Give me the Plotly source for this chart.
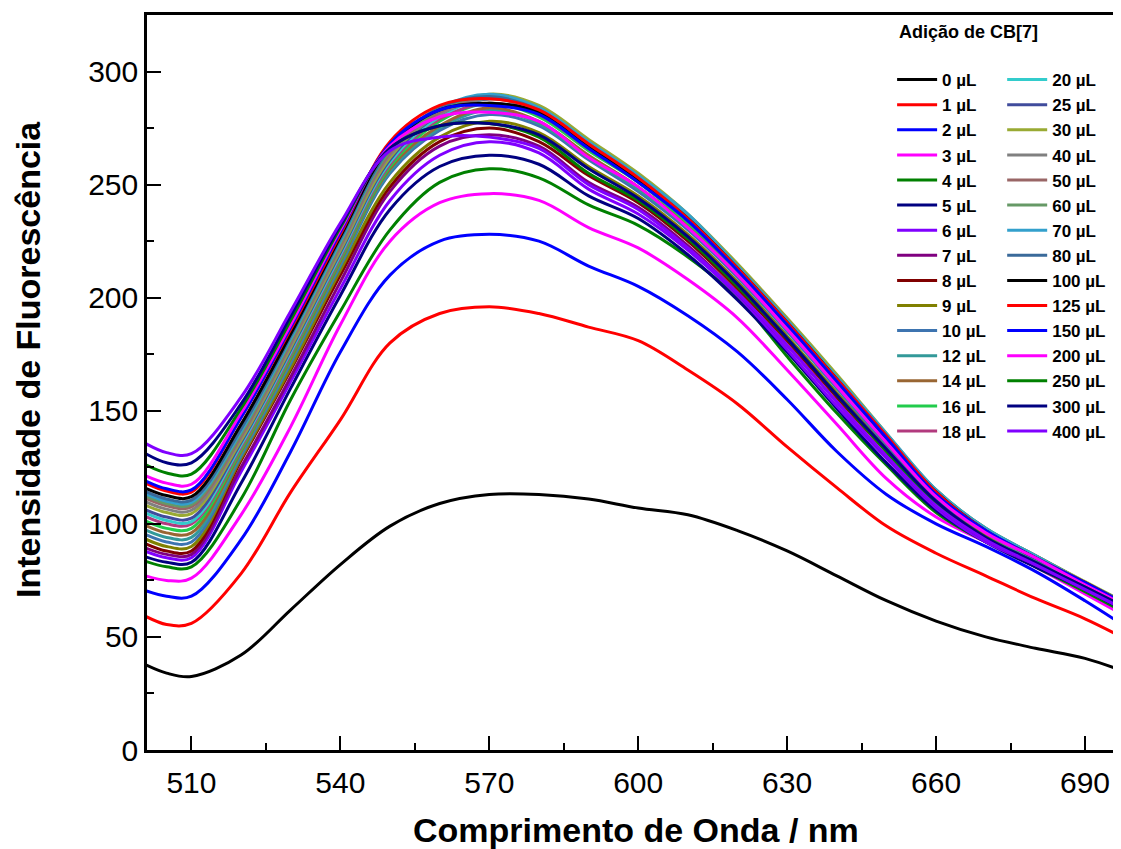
import plotly.graph_objects as go

# wavelength grid (nm)
wl = [500, 505, 510, 520, 530, 540, 550, 560, 570, 580, 590, 600,
      610, 620, 630, 640, 650, 660, 670, 680, 690, 700]

# fluorescence intensity per CB[7] addition
y_0 = [38.5, 34, 32.5, 42, 62, 82, 99, 109, 113, 113, 111, 107, 104, 97, 88, 77, 66, 57, 50, 45, 40.5, 33]
y_1 = [60, 55.5, 56, 78, 114, 146, 180, 193, 196, 193, 187, 181, 168, 153, 134, 116, 99, 87, 77, 67, 58, 47]
y_2 = [71, 68, 68, 93, 132, 176, 210, 225, 228, 225, 214, 205, 192, 176, 155, 132, 113, 100, 90, 79, 66, 52]
y_3 = [77.5, 75, 76, 104, 143, 188, 225, 242, 246, 243, 231, 222, 208, 191, 168, 144, 120, 103, 92, 81, 69, 57]
y_4 = [84, 81, 81, 111, 155, 194, 230, 251, 257, 253, 241, 232, 218, 200, 174, 149, 126, 105, 92, 81, 70, 58.5]
y_5 = [86, 83, 83, 118, 160, 201, 239, 258, 263, 259, 245, 235, 219, 199, 176, 151, 127, 106, 92, 81, 71, 59]
y_6 = [88.5, 85, 85, 123, 163, 204, 243, 263, 269, 264, 248, 237, 221, 201, 177, 152, 129, 107, 92, 82, 71, 60]
y_7 = [90, 86.5, 86.5, 125, 165, 207, 247, 267, 272, 267, 251, 240, 223, 202, 179, 154, 130, 108, 93, 82, 72, 60]
y_8 = [92, 88, 88, 128, 168, 210, 249, 269, 275, 269, 254, 242, 225, 204, 181, 156, 132, 109, 94, 83, 72, 61]
y_9 = [94, 90, 90, 129, 169, 212, 251, 271, 278, 273, 258, 245, 228, 207, 183, 158, 134, 110, 95, 84, 73, 61]
y_10 = [96, 92, 92, 130, 171, 214, 255, 274, 281, 276, 261, 247, 230, 209, 185, 160, 135, 111, 96, 84, 73, 61]
y_12 = [98, 94, 94, 131, 172, 215, 256, 275, 283, 277, 262, 248, 231, 210, 186, 161, 136, 112, 96, 84, 73, 62]
y_14 = [100, 96, 96, 132, 173, 216, 257, 276, 284, 278, 263, 249, 232, 210, 187, 162, 136, 112, 96, 85, 73, 62]
y_16 = [102, 98, 98, 133, 174, 217, 258, 278, 286, 280, 265, 251, 233, 212, 188, 163, 137, 113, 97, 85, 74, 62]
y_18 = [104, 100, 100, 134, 175, 218, 259, 279, 286, 281, 266, 252, 234, 212, 188, 163, 138, 113, 97, 85, 74, 62]
y_20 = [105.5, 101.5, 101, 135, 176, 219, 260, 280, 288, 283, 268, 253, 236, 213, 190, 164, 139, 114, 97, 85, 73, 62]
y_25 = [107, 103, 102.5, 136, 177, 220, 261, 281, 288, 284, 269, 254, 236, 214, 190, 165, 139, 114, 97, 85, 74, 62]
y_30 = [109, 105, 104.5, 137, 178, 221, 262, 282, 290, 285, 270, 255, 237, 215, 191, 166, 140, 115, 98, 86, 74.5, 63]
y_40 = [110.5, 106.5, 106, 138, 179, 222, 263, 281, 288, 282, 267, 252, 235, 213, 189, 164, 138, 114, 97, 85, 74, 62]
y_50 = [112, 108, 107.5, 139, 180, 223, 264, 282, 289, 283, 267, 253, 235, 214, 190, 164, 138, 114, 97, 86, 74, 62]
y_60 = [113, 109, 108.5, 140, 181, 224, 265, 283, 289, 284, 268, 254, 235, 214, 189, 165, 139, 115, 98, 86, 74, 62]
y_70 = [114, 110, 109.5, 141, 182, 225, 266, 284, 290, 284, 269, 254, 237, 214, 190, 165, 140, 115, 98, 86, 74, 63]
y_80 = [115, 111, 110.5, 142, 183, 226, 266, 284, 289, 283, 268, 253, 235, 213, 189, 164, 139, 114, 97, 85, 74, 63]
y_100 = [116.5, 112.5, 112, 144, 184, 227, 267, 283, 286, 282, 267, 252, 235, 213, 189, 164, 138, 114, 97, 85, 74, 62]
y_125 = [118.7, 114.5, 114, 147, 186, 228, 269, 285, 288, 283, 268, 253, 235, 213, 189, 164, 139, 114, 97, 85, 74, 62]
y_150 = [119.8, 115.5, 115, 147, 187, 229, 268, 283, 285, 281, 266, 251, 234, 212, 188, 163, 138, 113, 97, 85, 74, 62]
y_200 = [122, 118, 117.5, 149, 188, 230, 267, 280, 282, 278, 262, 249, 231, 210, 186, 161, 136, 112, 96, 85, 73, 62]
y_250 = [127, 122.5, 122, 151, 190, 231, 266, 276, 277, 271, 255, 243, 226, 205, 182, 157, 132, 109, 94, 83, 72, 61]
y_300 = [132, 127, 127, 153, 192, 232, 266, 276, 277, 272, 257, 244, 227, 206, 182, 157, 133, 110, 94, 83, 72, 61]
y_400 = [136.5, 131.5, 131, 156, 194, 233, 265, 271, 271, 266, 250, 239, 222, 202, 179, 154, 130, 108, 93, 82, 71, 60]

labels = ["0 µL", "1 µL", "2 µL", "3 µL", "4 µL", "5 µL", "6 µL", "7 µL", "8 µL", "9 µL",
          "10 µL", "12 µL", "14 µL", "16 µL", "18 µL",
          "20 µL", "25 µL", "30 µL", "40 µL", "50 µL", "60 µL", "70 µL", "80 µL", "100 µL",
          "125 µL", "150 µL", "200 µL", "250 µL", "300 µL", "400 µL"]
series = [y_0, y_1, y_2, y_3, y_4, y_5, y_6, y_7, y_8, y_9, y_10, y_12, y_14, y_16, y_18,
          y_20, y_25, y_30, y_40, y_50, y_60, y_70, y_80, y_100, y_125, y_150, y_200,
          y_250, y_300, y_400]
colors = ["#000000", "#FF0000", "#0000FF", "#FF00FF", "#008000", "#000080", "#8000FF",
          "#800080", "#800000", "#808000", "#3D74B0", "#339999", "#996633", "#22CC4C",
          "#B23A7E", "#33CCCC", "#404C9C", "#99AA33", "#808080", "#996666", "#669966",
          "#33A0CC", "#3A6A9A", "#000000", "#FF0000", "#0000FF", "#FF00FF", "#008000",
          "#000080", "#8000FF"]

FONT = "Liberation Sans, Arial, sans-serif"

fig = go.Figure()
for i, (lab, ys, col) in enumerate(zip(labels, series, colors)):
    fig.add_trace(go.Scatter(
        x=wl, y=ys, name=lab, mode="lines",
        line=dict(color=col, width=3, shape="spline", smoothing=1.0),
        legend="legend" if i < 15 else "legend2",
        legendgroup=lab,
    ))

leg_common = dict(
    font=dict(family=FONT, size=17, color="black", weight="bold"),
    bgcolor="rgba(0,0,0,0)", borderwidth=0,
    xanchor="left", yanchor="top", tracegroupgap=0,
    itemwidth=40,
)

# page body has an 8px margin, so the figure is offset by that amount;
# the plot is cut at the right window edge like the original
fig.update_layout(
    width=1125, height=841,
    margin=dict(l=139, r=12, t=7, b=99),
    paper_bgcolor="white", plot_bgcolor="white",
    font=dict(family=FONT, color="black"),
    legend=dict(x=0.765, y=0.936, **leg_common),
    legend2=dict(x=0.878, y=0.936, **leg_common),
    xaxis=dict(
        range=[501.05, 697.25], automargin=False,
        tickmode="linear", tick0=510, dtick=30,
        ticks="inside", ticklen=14, tickwidth=2, tickcolor="black",
        minor=dict(ticks="inside", ticklen=7, tickwidth=2, tickcolor="black", dtick=15, tick0=510),
        showline=True, linewidth=2.5, linecolor="black", mirror=True,
        showgrid=False, zeroline=False,
        tickfont=dict(family=FONT, size=30, color="black"),
        ticklabelstandoff=4,
    ),
    yaxis=dict(
        range=[0, 325], automargin=False,
        tickmode="linear", tick0=0, dtick=50,
        ticks="inside", ticklen=14, tickwidth=2, tickcolor="black",
        minor=dict(ticks="inside", ticklen=7, tickwidth=2, tickcolor="black", dtick=25, tick0=0),
        showline=True, linewidth=2.5, linecolor="black", mirror=False,
        showgrid=False, zeroline=False,
        tickfont=dict(family=FONT, size=30, color="black"),
    ),
    annotations=[
        dict(text="<b>Adição de CB[7]</b>", xref="paper", yref="paper",
             x=0.770, y=0.977, xanchor="left", yanchor="middle", showarrow=False,
             font=dict(family=FONT, size=18, color="black")),
        dict(text="<b>Intensidade de Fluorescência</b>", xref="paper", yref="paper",
             x=-0.1222, y=0.532, xanchor="center", yanchor="middle", showarrow=False,
             textangle=-90, font=dict(family=FONT, size=34, color="black")),
        dict(text="<b>Comprimento de Onda / nm</b>", xref="paper", yref="paper",
             x=0.502, y=-0.1088, xanchor="center", yanchor="middle", showarrow=False,
             font=dict(family=FONT, size=34, color="black")),
    ],
)

fig.write_html("out.html")
